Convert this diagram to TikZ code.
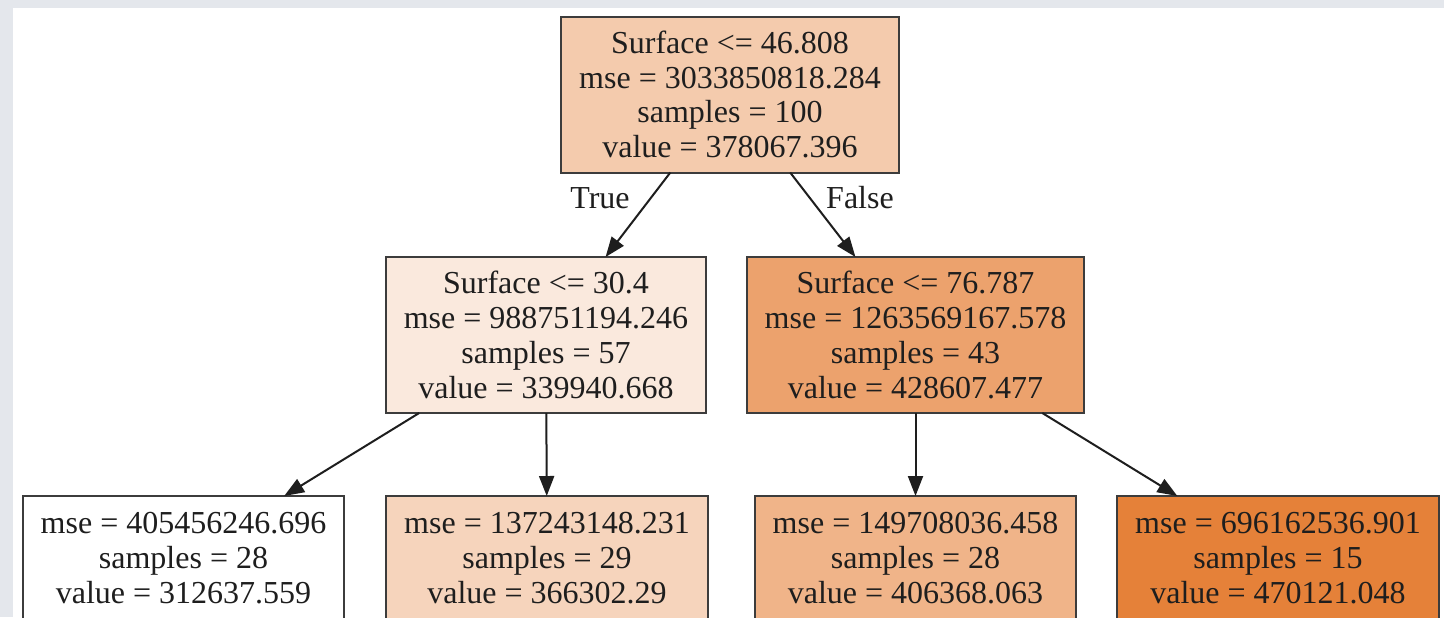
\documentclass[tikz,border=0pt]{standalone}
\usepackage{fontspec}
\setmainfont{Liberation Serif}
\usepackage{xcolor}
\usepackage{tikz}
\usetikzlibrary{arrows.meta}
\definecolor{framegray}{RGB}{228, 231, 236}
\definecolor{inkcol}{RGB}{30, 30, 30}
\definecolor{boxline}{RGB}{60, 60, 60}
\definecolor{rootfill}{RGB}{244, 203, 173}
\definecolor{lsplitfill}{RGB}{250, 233, 221}
\definecolor{rsplitfill}{RGB}{236, 162, 109}
\definecolor{leafbfill}{RGB}{246, 212, 188}
\definecolor{leafcfill}{RGB}{240, 180, 137}
\definecolor{leafdfill}{RGB}{229, 129, 57}

\begin{document}
\begin{tikzpicture}[
    x=0.5pt, y=-0.5pt,
    split/.style={rectangle, draw=boxline, line width=1pt, outer sep=0pt, inner xsep=9pt, minimum height=78pt, align=center, text=inkcol, font=\fontsize{16}{17.4}\selectfont},
    leaf/.style={split, minimum height=62pt},
    branch/.style={text=inkcol, font=\fontsize{16}{17.4}\selectfont},
    arrow/.style={-{Triangle[length=10pt, width=7.5pt]}, line width=1pt, color=inkcol}
]
    % Frame
    \fill[framegray] (0,0) rectangle (1444,617);
    \fill[white] (13,8) rectangle (1444,617);
    \clip (0,0) rectangle (1444,617);

    % Tree nodes
    \node[split, fill=rootfill] (root) at (730,94.5) {Surface <= 46.808\\mse = 3033850818.284\\samples = 100\\value = 378067.396};
    \node[split, fill=lsplitfill] (lsplit) at (546,335) {Surface <= 30.4\\mse = 988751194.246\\samples = 57\\value = 339940.668};
    \node[split, fill=rsplitfill] (rsplit) at (915.5,335) {Surface <= 76.787\\mse = 1263569167.578\\samples = 43\\value = 428607.477};
    \node[leaf, fill=white] (leafa) at (183.5,558) {mse = 405456246.696\\samples = 28\\value = 312637.559};
    \node[leaf, fill=leafbfill] (leafb) at (547,558) {mse = 137243148.231\\samples = 29\\value = 366302.29};
    \node[leaf, fill=leafcfill] (leafc) at (915.5,558) {mse = 149708036.458\\samples = 28\\value = 406368.063};
    \node[leaf, fill=leafdfill] (leafd) at (1278,558) {mse = 696162536.901\\samples = 15\\value = 470121.048};

    % Branch labels
    \node[branch] (truelbl) at (600,198) {True};
    \node[branch] (falselbl) at (860,198) {False};

    % Edges
    \draw[arrow] (root) -- (lsplit);
    \draw[arrow] (root) -- (rsplit);
    \draw[arrow] (lsplit) -- (leafa);
    \draw[arrow] (lsplit) -- (leafb);
    \draw[arrow] (rsplit) -- (leafc);
    \draw[arrow] (rsplit) -- (leafd);
\end{tikzpicture}
\end{document}
